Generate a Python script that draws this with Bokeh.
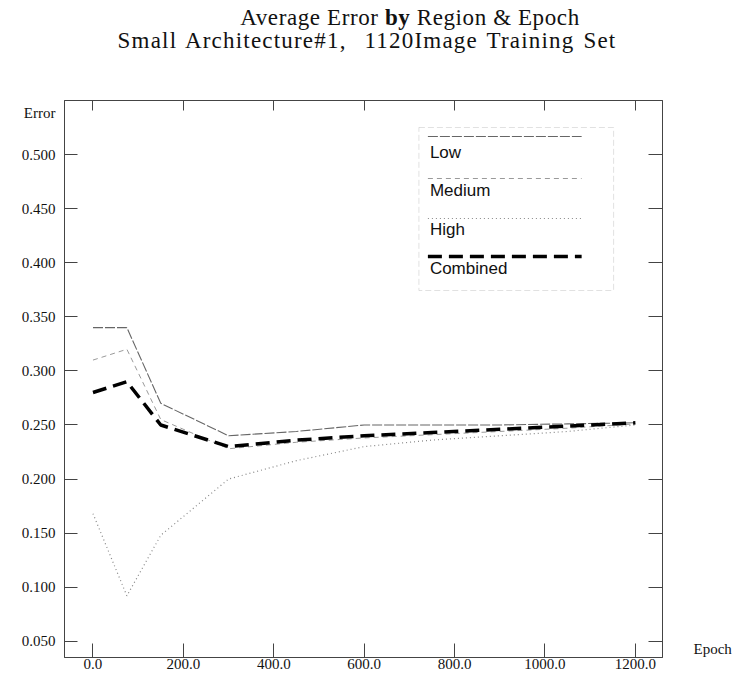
from bokeh.plotting import figure
from bokeh.models import (Div, Label, FixedTicker, NumeralTickFormatter, LinearAxis,
                          Range1d, BoxAnnotation)
from bokeh.layouts import column
from bokeh.embed import file_html
from bokeh.resources import INLINE

# ---------------- data ----------------
epochs = [0, 75, 150, 300, 450, 600, 750, 900, 1050, 1200]
low = [0.340, 0.340, 0.270, 0.240, 0.244, 0.250, 0.250, 0.250, 0.251, 0.252]
medium = [0.310, 0.320, 0.255, 0.228, 0.234, 0.238, 0.241, 0.244, 0.247, 0.251]
high = [0.168, 0.092, 0.148, 0.200, 0.217, 0.230, 0.236, 0.240, 0.244, 0.250]
combined = [0.280, 0.290, 0.250, 0.230, 0.236, 0.240, 0.243, 0.246, 0.249, 0.252]

series_names = ["Low", "Medium", "High", "Combined"]
x_ticks = [0, 200, 400, 600, 800, 1000, 1200]
y_ticks = [0.05, 0.10, 0.15, 0.20, 0.25, 0.30, 0.35, 0.40, 0.45, 0.50]

# ---------------- layout constants (page pixels) ----------------
TITLE_H = 62
FX0, FX1, FY0, FY1 = 64, 663, 100, 657
X0, X1 = -63.0, 1260.0
Y0, Y1 = 0.035, 0.550


def px2x(px):
    return X0 + (px - FX0) / (FX1 - FX0) * (X1 - X0)


def py2y(py):
    return Y1 - (py - FY0) / (FY1 - FY0) * (Y1 - Y0)


SERIF = "Liberation Serif"
SANS = "Liberation Sans"

title = Div(
    text=(
        '<div style="font-family:\'Liberation Serif\',serif;font-size:23px;'
        'line-height:23px;color:#111;width:734px;padding-top:6px;">'
        '<div style="text-align:center;padding-left:86px;letter-spacing:0.6px;">'
        'Average Error <b>by</b> Region &amp; Epoch</div>'
        '<div style="text-align:center;letter-spacing:1.2px;word-spacing:2px;">'
        'Small Architecture#1,&nbsp; 1120Image Training Set</div>'
        '</div>'
    ),
    width=734, height=TITLE_H, margin=0,
)

p = figure(
    width=734, height=674 - TITLE_H,
    x_range=Range1d(X0, X1), y_range=Range1d(Y0, Y1),
    output_backend="svg", toolbar_location=None,
    min_border_left=FX0, min_border_right=734 - FX1,
    min_border_top=FY0 - TITLE_H, min_border_bottom=674 - FY1,
    x_axis_location=None, y_axis_location=None,
    background_fill_color="white", border_fill_color="white",
    outline_line_color="#555555", outline_line_width=1,
)
p.grid.visible = False


def style_axis(ax, tick_len):
    ax.axis_line_color = "#444444"
    ax.major_tick_line_color = None
    ax.major_tick_in = 0
    ax.major_tick_out = 0
    ax.minor_tick_line_color = "#444444"
    ax.minor_tick_in = tick_len
    ax.minor_tick_out = 0
    ax.major_label_text_font = SERIF
    ax.major_label_text_font_size = "15px"
    ax.major_label_text_color = "#111111"


# axis-title positions, placed as extra labels on the side axes
error_y = py2y(112)
epoch_y = py2y(648)

left = LinearAxis(ticker=FixedTicker(ticks=y_ticks + [error_y], minor_ticks=y_ticks),
                  formatter=NumeralTickFormatter(format="0.000"))
style_axis(left, 13)
left.major_label_standoff = 9
left.major_label_overrides = {error_y: "Error"}
p.add_layout(left, "left")

right = LinearAxis(ticker=FixedTicker(ticks=[epoch_y], minor_ticks=y_ticks))
style_axis(right, 14)
right.major_label_standoff = 31
right.major_label_overrides = {epoch_y: "Epoch"}
p.add_layout(right, "right")

bottom = LinearAxis(ticker=FixedTicker(ticks=x_ticks, minor_ticks=x_ticks),
                    formatter=NumeralTickFormatter(format="0.0"))
style_axis(bottom, 14)
bottom.major_label_standoff = 1
p.add_layout(bottom, "below")

top = LinearAxis(ticker=FixedTicker(ticks=[], minor_ticks=x_ticks))
style_axis(top, 10)
p.add_layout(top, "above")

styles = {
    "Low": dict(line_color="#666666", line_width=1.1, line_dash="10 2"),
    "Medium": dict(line_color="#9a9a9a", line_width=1.0, line_dash="5 4"),
    "High": dict(line_color="#888888", line_width=1.2, line_dash="1 3"),
    "Combined": dict(line_color="#000000", line_width=3.5, line_dash="14 7"),
}
values = {"Low": low, "Medium": medium, "High": high, "Combined": combined}

for name in series_names:
    p.line(epochs, values[name], **styles[name])

# ---------------- legend (line sample above each label) ----------------
p.add_layout(BoxAnnotation(left=px2x(419), right=px2x(614), top=py2y(127), bottom=py2y(290),
                           fill_color=None, level="underlay",
                           line_color="#9a9a9a", line_width=1, line_dash="6 3"))
sample_y = [136, 178, 218, 256]
text_y = [152, 190, 229, 268]
for name, sy, ty in zip(series_names, sample_y, text_y):
    p.line([px2x(428), px2x(582)], [py2y(sy), py2y(sy)], **styles[name])
    p.add_layout(Label(x=px2x(430), y=py2y(ty), text=name, text_font=SANS,
                       text_font_size="17px", text_color="#111111",
                       text_baseline="middle", text_align="left"))

layout = column(title, p, spacing=0)
open("out.html", "w").write(file_html(layout, INLINE))
